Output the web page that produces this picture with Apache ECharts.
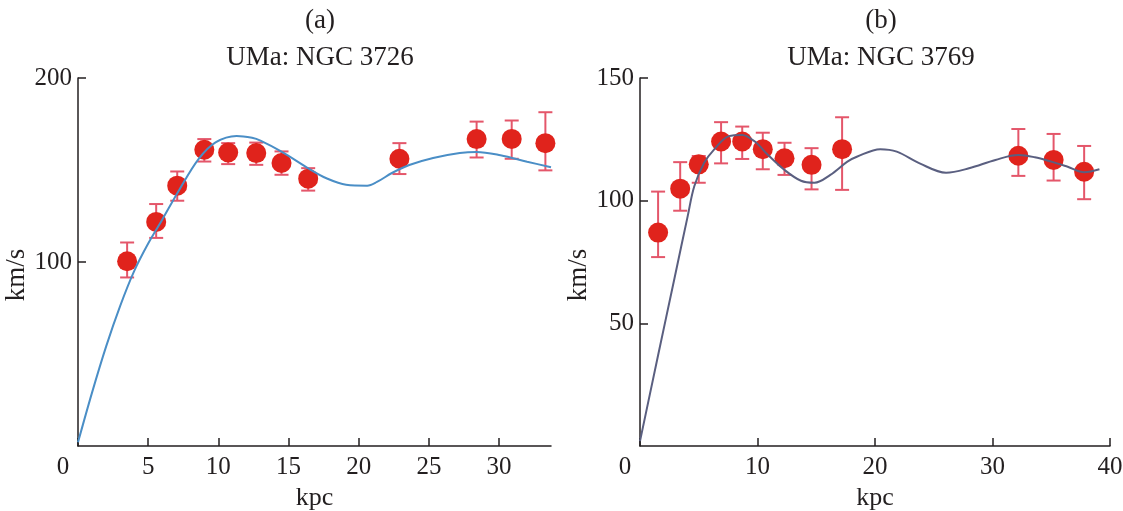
<!DOCTYPE html>
<html style="height: 100%">
<head>
<meta charset="utf-8">
</head>
<body style="height: 100%; margin: 0; background: #fff">
<div id="container" style="width: 1123px; height: 511px"></div>
<script src="https://cdn.jsdelivr.net/npm/echarts@6/dist/echarts.min.js"></script>
<script>
// (a) UMa: NGC 3726 - observed points
var rA = [3.5, 5.57, 7.07, 9.0, 10.7, 12.7, 14.5, 16.4, 22.9, 28.4, 30.9, 33.3];
var vA = [100.4, 121.8, 141.5, 161, 159.5, 159.2, 153.8, 145.3, 156.1, 166.8, 166.9, 164.6];
var loA = [91.6, 113.1, 133.3, 154.6, 153.2, 152.8, 147.4, 138.8, 147.8, 156.8, 156.1, 149.8];
var hiA = [110.6, 131.5, 149.2, 166.8, 164.6, 164.9, 160.1, 151, 164.6, 176.3, 176.9, 181.4];
// (a) model curve
var curveRA = [0, 1, 2, 3, 4, 5, 6, 7.2, 8.6, 9.8, 11.3, 12.4, 13, 14.5, 16.5, 17.7, 19.1, 20.6, 21.3, 22.4, 23.6, 25.3, 27.2, 28.4, 30.1, 32, 33.7];
var curveVA = [2, 29, 54, 76, 95, 110, 123, 139, 156, 165, 168.5, 167.5, 166, 160, 150.5, 145.5, 142, 141.5, 143.5, 148.5, 152.7, 156.5, 159.2, 159.8, 158, 154.5, 151.5];

// (b) UMa: NGC 3769 - observed points
var rB = [1.54, 3.42, 5.0, 6.9, 8.7, 10.45, 12.3, 14.6, 17.2, 32.2, 35.2, 37.8];
var vB = [87.0, 104.9, 114.8, 124.1, 124.1, 121.0, 117.3, 114.6, 121.0, 118.3, 116.6, 111.8];
var loB = [77.0, 95.9, 107.3, 115.2, 117.0, 112.8, 110.5, 104.6, 104.4, 110.1, 108.2, 100.6];
var hiB = [103.7, 115.7, 118.2, 132.0, 130.2, 127.7, 123.6, 121.4, 134.0, 129.2, 127.2, 122.3];
// (b) model curve
var curveRB = [0, 1.54, 2.94, 4.06, 4.62, 5.46, 6.3, 7.56, 8.7, 9.8, 10.9, 12.3, 13.7, 14.85, 16.2, 17.65, 18.5, 20.45, 21.85, 23.8, 26.05, 28, 30.25, 32.2, 33.6, 35, 36.4, 37.8, 39.1];
var curveVB = [2, 37, 68.5, 93.7, 105.9, 115.4, 120.8, 126.3, 126.8, 124, 118.6, 112.5, 108.1, 107.3, 110.5, 115.9, 118, 121, 120, 115.2, 111.4, 113.2, 116.6, 118.6, 117.7, 115.9, 113.8, 111.6, 112.8];

// tick labels
var xTicksA = [0, 5, 10, 15, 20, 25, 30];
var yTicksA = [100, 200];
var xTicksB = [0, 10, 20, 30, 40];
var yTicksB = [50, 100, 150];

var font = 'Liberation Serif';
var ink = '#231f20';
var pointColor = '#e0231c';
var barColor = '#e4566a';

function zip(a, b) {
  return a.map(function (v, i) { return [v, b[i]]; });
}
function zip3(a, b, c) {
  return a.map(function (v, i) { return [v, b[i], c[i]]; });
}

function errorBars(params, api) {
  var x = api.value(0);
  var pLo = api.coord([x, api.value(1)]);
  var pHi = api.coord([x, api.value(2)]);
  var w = 7;
  var st = { stroke: barColor, lineWidth: 2 };
  return {
    type: 'group',
    children: [
      { type: 'line', shape: { x1: pLo[0], y1: pLo[1], x2: pHi[0], y2: pHi[1] }, style: st },
      { type: 'line', shape: { x1: pLo[0] - w, y1: pLo[1], x2: pLo[0] + w, y2: pLo[1] }, style: st },
      { type: 'line', shape: { x1: pHi[0] - w, y1: pHi[1], x2: pHi[0] + w, y2: pHi[1] }, style: st }
    ]
  };
}

function xAxis(idx, max, ticks) {
  return {
    type: 'value', gridIndex: idx, min: 0, max: max,
    name: 'kpc', nameLocation: 'middle', nameGap: 35,
    nameTextStyle: { fontFamily: font, fontSize: 26, color: ink },
    axisLine: { lineStyle: { color: ink, width: 1.5 } },
    axisTick: { inside: true, length: 8, customValues: ticks, lineStyle: { color: ink, width: 1.5 } },
    axisLabel: {
      customValues: ticks, margin: 9,
      fontFamily: font, fontSize: 25, color: ink,
      formatter: function (v) { return v === 0 ? '{z|0}' : String(v); },
      rich: { z: { fontFamily: font, fontSize: 25, color: ink, padding: [0, 30, 0, 0] } }
    },
    splitLine: { show: false }
  };
}

function yAxis(idx, max, ticks, gap) {
  return {
    type: 'value', gridIndex: idx, min: 0, max: max,
    name: 'km/s', nameLocation: 'middle', nameGap: gap,
    nameTextStyle: { fontFamily: font, fontSize: 27, color: ink, padding: [0, 26, 0, 0] },
    axisLine: { lineStyle: { color: ink, width: 1.5 } },
    axisTick: { inside: true, length: 8, customValues: ticks, lineStyle: { color: ink, width: 1.5 } },
    axisLabel: { customValues: ticks, margin: 6, fontFamily: font, fontSize: 25, color: ink },
    splitLine: { show: false }
  };
}

function titleAt(text, x, top) {
  return {
    text: text, left: x, top: top, textAlign: 'center',
    textStyle: { fontFamily: font, fontSize: 27, fontWeight: 'normal', color: ink }
  };
}

var myChart = echarts.init(document.getElementById('container'));

var option = {
  animation: false,
  title: [
    titleAt('(a)', 315, 2),
    titleAt('UMa: NGC 3726', 315, 39),
    titleAt('(b)', 876, 2),
    titleAt('UMa: NGC 3769', 876, 39)
  ],
  grid: [
    { left: 78, right: 572, top: 78, bottom: 65, outerBoundsMode: 'none', containLabel: false },
    { left: 640, right: 13, top: 78, bottom: 65, outerBoundsMode: 'none', containLabel: false }
  ],
  xAxis: [xAxis(0, 33.7, xTicksA), xAxis(1, 40, xTicksB)],
  yAxis: [yAxis(0, 200, yTicksA, 42), yAxis(1, 150, yTicksB, 41)],
  series: [
    {
      type: 'custom', xAxisIndex: 0, yAxisIndex: 0, z: 2,
      renderItem: errorBars, encode: { x: 0, y: [1, 2] },
      data: zip3(rA, loA, hiA)
    },
    {
      type: 'scatter', xAxisIndex: 0, yAxisIndex: 0, z: 3,
      symbolSize: 20, itemStyle: { color: pointColor, opacity: 1 },
      data: zip(rA, vA)
    },
    {
      type: 'line', xAxisIndex: 0, yAxisIndex: 0, z: 4,
      smooth: 0.35, showSymbol: false,
      lineStyle: { color: '#4a8ec6', width: 2 },
      data: zip(curveRA, curveVA)
    },
    {
      type: 'custom', xAxisIndex: 1, yAxisIndex: 1, z: 2,
      renderItem: errorBars, encode: { x: 0, y: [1, 2] },
      data: zip3(rB, loB, hiB)
    },
    {
      type: 'scatter', xAxisIndex: 1, yAxisIndex: 1, z: 3,
      symbolSize: 20, itemStyle: { color: pointColor, opacity: 1 },
      data: zip(rB, vB)
    },
    {
      type: 'line', xAxisIndex: 1, yAxisIndex: 1, z: 4,
      smooth: 0.35, showSymbol: false,
      lineStyle: { color: '#5a5f80', width: 2 },
      data: zip(curveRB, curveVB)
    }
  ]
};

myChart.setOption(option);
</script>
</body>
</html>
